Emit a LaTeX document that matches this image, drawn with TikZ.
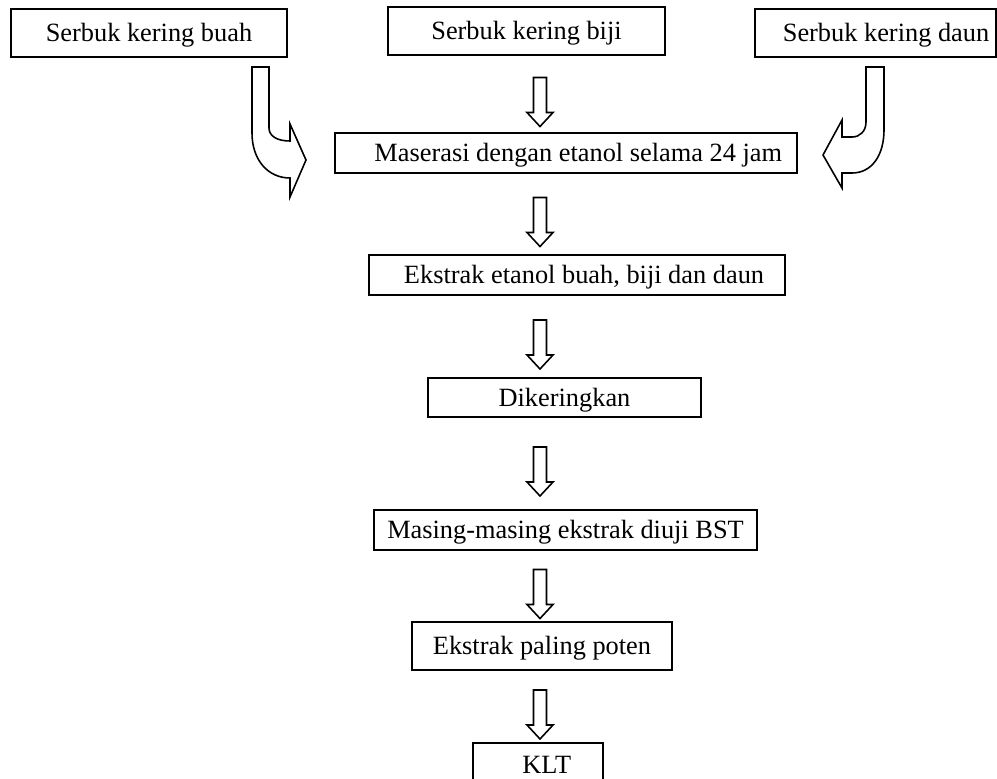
\documentclass[tikz,border=0pt]{standalone}
\usepackage{fontspec}
\setmainfont{Liberation Serif}
\usetikzlibrary{calc}

\newcommand{\pxu}{0.02cm}
\tikzset{
  stepbox/.style={draw, line width=1pt, rectangle, inner sep=0pt, text height=12.9pt, text depth=3pt, font=\fontsize{15}{18}\selectfont},
  blockarrow/.style={draw, line width=0.9pt, line join=miter, fill=white}
}
% hollow down arrow between two boxes, on the line x = ax
\newcommand{\fatarrow}[2]{%
  \draw[blockarrow] ($(#1.south -| ax)!0.5!(#2.north -| ax)$) ++(-6.5,-16.5) -- ++(13,0) -- ++(0,35) -- ++(6.5,0) -- ++(-13,14) -- ++(-13,-14) -- ++(6.5,0) -- cycle;}

\begin{document}
\begin{tikzpicture}[x=\pxu, y=-\pxu]
\useasboundingbox (0,0) rectangle (997,778);
\coordinate (ax) at (540,0);

\node[stepbox, minimum width=276*\pxu, minimum height=48*\pxu] (buah) at (149,33) {Serbuk kering buah\hspace{20pt}};
\node[stepbox, minimum width=277*\pxu, minimum height=48*\pxu] (biji) at (526.5,31) {Serbuk kering biji\hspace{12pt}};
\node[stepbox, minimum width=241*\pxu, minimum height=48*\pxu] (daun) at (875.5,33) {\hspace{12pt}Serbuk kering daun};
\node[stepbox, minimum width=462*\pxu, minimum height=40*\pxu] (maserasi) at (566,153) {\hspace{14pt}Maserasi dengan etanol selama 24 jam};
\node[stepbox, minimum width=416*\pxu, minimum height=40*\pxu] (ekstrak) at (577,275) {\hspace{8pt}Ekstrak etanol buah, biji dan daun};
\node[stepbox, minimum width=273*\pxu, minimum height=39*\pxu] (kering) at (564.5,397.5) {Dikeringkan};
\node[stepbox, minimum width=383*\pxu, minimum height=40*\pxu] (bst) at (565.5,530) {Masing-masing ekstrak diuji BST};
\node[stepbox, minimum width=260*\pxu, minimum height=48*\pxu] (poten) at (542,646) {Ekstrak paling poten};
\node[stepbox, minimum width=130*\pxu, minimum height=44*\pxu] (klt) at (538,765) {\hspace{10pt}KLT};

% bent arrows into the maceration box
\draw[blockarrow] (252,67) -- (269,67) -- (269,128) .. controls (269,136) and (277,141) .. (290,141) -- (290,124) -- (306,160) -- (290,197) -- (290,178) .. controls (268,178) and (252,160) .. (252,133) -- cycle;
\draw[blockarrow] (884,67) -- (866,67) -- (866,122) .. controls (866,131) and (860,137) .. (852,137) -- (842,137) -- (842,120) -- (823,155) -- (842,188) -- (842,173) -- (852,173) .. controls (872,173) and (884,155) .. (884,130) -- cycle;

\fatarrow{biji}{maserasi}
\fatarrow{maserasi}{ekstrak}
\fatarrow{ekstrak}{kering}
\fatarrow{kering}{bst}
\fatarrow{bst}{poten}
\fatarrow{poten}{klt}
\end{tikzpicture}
\end{document}
